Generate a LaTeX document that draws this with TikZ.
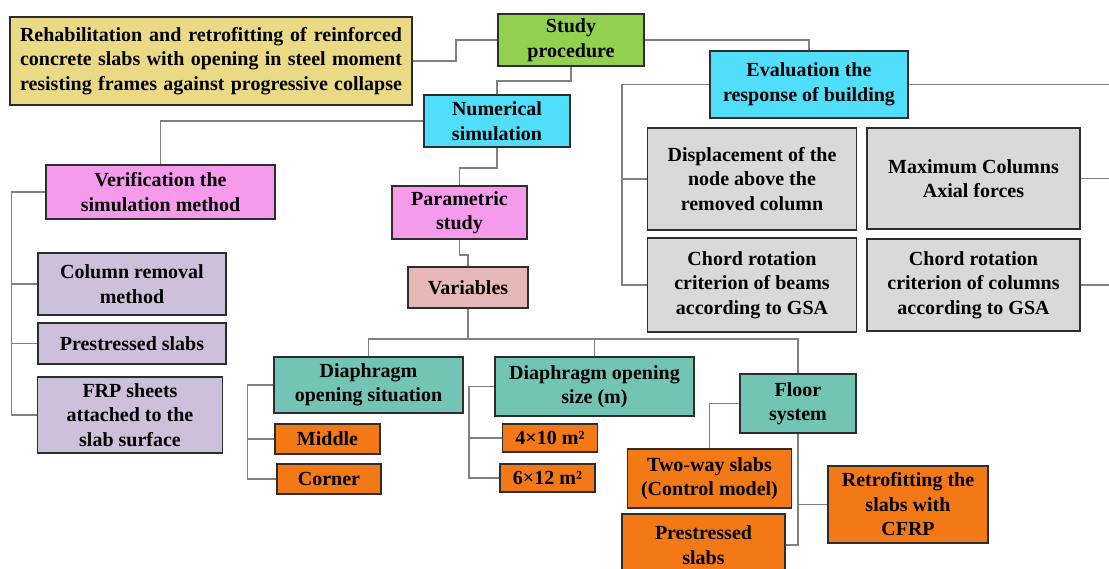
\documentclass[tikz,border=0pt]{standalone}
\usepackage{fontspec}
\setmainfont{Liberation Serif}
\usetikzlibrary{calc}
\definecolor{TitleYellow}{RGB}{234,218,134}
\definecolor{StudyGreen}{RGB}{146,208,80}
\definecolor{SimCyan}{RGB}{80,222,250}
\definecolor{CheckPink}{RGB}{246,155,236}
\definecolor{MethodLilac}{RGB}{204,192,218}
\definecolor{VarRose}{RGB}{230,185,184}
\definecolor{CaseTeal}{RGB}{114,196,180}
\definecolor{ValueOrange}{RGB}{243,121,23}
\definecolor{ResultGray}{RGB}{217,217,217}
\definecolor{BoxLine}{RGB}{45,45,45}
\definecolor{LinkGray}{RGB}{128,128,128}
\begin{document}
\begin{tikzpicture}[x=1pt,y=-1pt,
  box/.style={draw=BoxLine,line width=1.8pt,align=center,inner sep=0pt,
    font=\bfseries\fontsize{20}{24.5}\selectfont},
  link/.style={draw=LinkGray,line width=1.4pt}]
  \useasboundingbox (0,0) rectangle (1109,568);
  \node[box,fill=TitleYellow,minimum width=402,minimum height=88] (rehab) at (211,61)
    {\makebox[382pt][s]{Rehabilitation and retrofitting of reinforced}\\
     \makebox[382pt][s]{concrete slabs with opening in steel moment}\\
     \makebox[382pt][s]{resisting frames against progressive collapse}};
  \node[box,fill=StudyGreen,minimum width=146,minimum height=52] (study) at (571,40) {Study\\procedure};
  \node[box,fill=SimCyan,minimum width=146,minimum height=52] (numerical) at (497,121) {Numerical\\simulation};
  \node[box,fill=SimCyan,minimum width=198,minimum height=67] (evaluation) at (809,84.5) {Evaluation the\\response of building};
  \node[box,fill=CheckPink,minimum width=229,minimum height=54] (verification) at (160.5,192) {Verification the\\simulation method};
  \node[box,fill=MethodLilac,minimum width=188,minimum height=62] (colremoval) at (132,284) {Column removal\\method};
  \node[box,fill=MethodLilac,minimum width=188,minimum height=41] (prestressed) at (132,343.5) {Prestressed slabs};
  \node[box,fill=MethodLilac,minimum width=185,minimum height=76] (frp) at (130,415) {FRP sheets\\attached to the\\slab surface};
  \node[box,fill=CheckPink,minimum width=135,minimum height=53] (parametric) at (459.5,212.5) {Parametric\\study};
  \node[box,fill=VarRose,minimum width=120,minimum height=41] (variables) at (468,287.5) {Variables};
  \node[box,fill=CaseTeal,minimum width=189,minimum height=56] (diasit) at (368.5,385) {Diaphragm\\opening situation};
  \node[box,fill=ValueOrange,minimum width=105,minimum height=30] (middle) at (327.5,439) {Middle};
  \node[box,fill=ValueOrange,minimum width=104,minimum height=30] (corner) at (329,479) {Corner};
  \node[box,fill=CaseTeal,minimum width=199,minimum height=59] (diasize) at (594.5,386.5) {Diaphragm opening\\size (m)};
  \node[box,fill=ValueOrange,minimum width=95,minimum height=28] (small) at (550,438) {4×10 m²};
  \node[box,fill=ValueOrange,minimum width=95,minimum height=28] (large) at (547.5,478) {6×12 m²};
  \node[box,fill=CaseTeal,minimum width=116,minimum height=59] (floor) at (798,403.5) {Floor\\system};
  \node[box,fill=ValueOrange,minimum width=164,minimum height=59] (twoway) at (709.5,478.5) {Two-way slabs\\(Control model)};
  \node[box,fill=ValueOrange,minimum width=163,minimum height=62] (prestressedslab) at (703.5,545) {Prestressed\\slabs};
  \node[box,fill=ValueOrange,minimum width=160,minimum height=77] (retrofit) at (908,504.5) {Retrofitting the\\slabs with\\CFRP};
  \node[box,fill=ResultGray,minimum width=209,minimum height=102] (displacement) at (752,179) {Displacement of the\\node above the\\removed column};
  \node[box,fill=ResultGray,minimum width=213,minimum height=101] (maxaxial) at (973.5,178.5) {Maximum Columns\\Axial forces};
  \node[box,fill=ResultGray,minimum width=209,minimum height=94] (chordbeam) at (752,285) {Chord rotation\\criterion of beams\\according to GSA};
  \node[box,fill=ResultGray,minimum width=213,minimum height=92] (chordcol) at (973.5,285) {Chord rotation\\criterion of columns\\according to GSA};
  \coordinate (evalrail) at (622,84.5);
  \coordinate (rightrail) at (1116,84.5);
  \coordinate (varbus) at (468,339);
  \begin{scope}[on background layer/.try]
    \draw[link] (rehab.east) -- ++(43,0) |- (study.west);
    \draw[link] (study.south) -- ++(0,14) -| (numerical.north);
    \draw[link] (study.east) -| (evaluation.north);
    \draw[link] (evaluation.west) -- (evalrail) |- (chordbeam.west);
    \draw[link] (evalrail) |- (displacement.west);
    \draw[link] (evaluation.east) -- (rightrail) |- (chordcol.east);
    \draw[link] (maxaxial.east) -- (maxaxial.east -| rightrail);
    \draw[link] (numerical.west) -| (verification.north);
    \draw[link] (verification.west) -- ++(-33.5,0) coordinate (checkrail) |- (frp.west);
    \draw[link] (checkrail) |- (colremoval.west);
    \draw[link] (checkrail) |- (prestressed.west);
    \draw[link] (numerical.south) -- ++(0,20) -| (parametric.north);
    \draw[link] (parametric.south) -- ++(0,15) -| (variables.north);
    \draw[link] (variables.south) -- (varbus);
    \draw[link] (diasit.north) |- (varbus) -| (floor.north);
    \draw[link] (varbus) -| (diasize.north);
    \draw[link] (diasit.west) -- ++(-25.5,0) coordinate (sitrail) |- (corner.west);
    \draw[link] (sitrail) |- (middle.west);
    \draw[link] (diasize.west) -- ++(-25,0) coordinate (sizerail) |- (large.west);
    \draw[link] (sizerail) |- (small.west);
    \draw[link] (floor.west) -| (twoway.north);
    \draw[link] (floor.south) |- (prestressedslab.east);
    \draw[link] (floor.south) |- (retrofit.west);
  \end{scope}
\end{tikzpicture}
\end{document}
